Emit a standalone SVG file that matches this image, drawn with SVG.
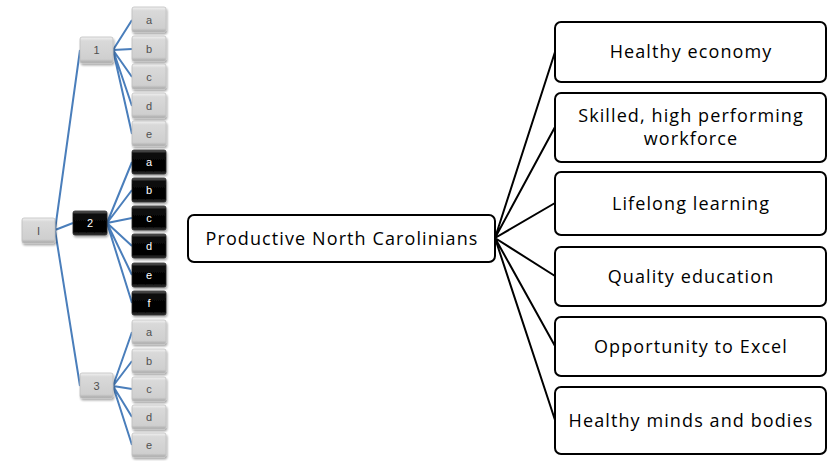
<svg xmlns="http://www.w3.org/2000/svg" width="827" height="461" viewBox="0 0 827 461">
<defs>
<linearGradient id="gGray" x1="0" y1="0" x2="0" y2="1">
<stop offset="0" stop-color="#f2f2f2"/>
<stop offset="0.15" stop-color="#d9d9d9"/>
<stop offset="0.85" stop-color="#cfcfcf"/>
<stop offset="1" stop-color="#a6a6a6"/>
</linearGradient>
<linearGradient id="gBlack" x1="0" y1="0" x2="0" y2="1">
<stop offset="0" stop-color="#6a6a6a"/>
<stop offset="0.15" stop-color="#0a0a0a"/>
<stop offset="0.85" stop-color="#000"/>
<stop offset="1" stop-color="#3a3a3a"/>
</linearGradient>
<filter id="sh" x="-20%" y="-20%" width="150%" height="160%">
<feGaussianBlur in="SourceAlpha" stdDeviation="1"/>
<feOffset dx="1" dy="1.5" result="o"/>
<feComponentTransfer><feFuncA type="linear" slope="0.35"/></feComponentTransfer>
<feMerge><feMergeNode/><feMergeNode in="SourceGraphic"/></feMerge>
</filter>
</defs>
<style>
.g{fill:url(#gGray);stroke:#bfbfbf;stroke-width:0.8;filter:url(#sh)}
.k{fill:url(#gBlack);stroke:#222;stroke-width:0.8;filter:url(#sh)}
.tg{font-family:"Liberation Sans Narrow","Liberation Sans",sans-serif;font-size:11px;fill:#505050;text-anchor:middle}
.tk{font-family:"Liberation Sans Narrow","Liberation Sans",sans-serif;font-size:11px;fill:#fff;text-anchor:middle}
.bl{stroke:#4a7ebb;stroke-width:2;fill:none}
.bx{fill:#fff;stroke:#000;stroke-width:2}
.t{font-family:"Open Sans","Noto Sans",sans-serif;font-size:18px;letter-spacing:1.1px;fill:#000;text-anchor:middle}
.ln{stroke:#000;stroke-width:2;fill:none}
</style>
<g id="connectors">
<path class="bl" d="M55 230 L80 50 M55 230 L73 223 M55 230 L80 386"/>
<path class="bl" d="M113 50 L132 20 M113 50 L132 49 M113 50 L132 77 M113 50 L132 106 M113 50 L132 134"/>
<path class="bl" d="M107 223 L132 162 M107 223 L132 190 M107 223 L132 218 M107 223 L132 246 M107 223 L132 275 M107 223 L132 303"/>
<path class="bl" d="M113 386 L132 332 M113 386 L132 361 M113 386 L132 389 M113 386 L132 417 M113 386 L132 445"/>
<path class="ln" d="M495 238 L555 52 M495 238 L555 127 M495 238 L555 203 M495 238 L555 276 M495 238 L555 346 M495 238 L555 420"/>
</g>
<g id="root"><rect class="g" x="22" y="218" width="33" height="25" rx="2"/><text class="tg" x="38.5" y="234.5">I</text></g>
<g id="n1"><rect class="g" x="80" y="37" width="33" height="26" rx="2"/><text class="tg" x="96.5" y="54">1</text></g>
<g id="n2"><rect class="k" x="73" y="211" width="34" height="24" rx="2"/><text class="tk" x="90" y="227">2</text></g>
<g id="n3"><rect class="g" x="80" y="373" width="33" height="25" rx="2"/><text class="tg" x="96.5" y="389.5">3</text></g>
<g id="n1a"><rect class="g" x="132" y="7" width="34" height="25" rx="2"/><text class="tg" x="149" y="23.5">a</text></g>
<g id="n1b"><rect class="g" x="132" y="36" width="34" height="25" rx="2"/><text class="tg" x="149" y="52.5">b</text></g>
<g id="n1c"><rect class="g" x="132" y="64" width="34" height="25" rx="2"/><text class="tg" x="149" y="80.5">c</text></g>
<g id="n1d"><rect class="g" x="132" y="93" width="34" height="25" rx="2"/><text class="tg" x="149" y="109.5">d</text></g>
<g id="n1e"><rect class="g" x="132" y="121" width="34" height="25" rx="2"/><text class="tg" x="149" y="137.5">e</text></g>
<g id="n2a"><rect class="k" x="132" y="150" width="34" height="24" rx="2"/><text class="tk" x="149" y="166">a</text></g>
<g id="n2b"><rect class="k" x="132" y="178" width="34" height="24" rx="2"/><text class="tk" x="149" y="194">b</text></g>
<g id="n2c"><rect class="k" x="132" y="206" width="34" height="24" rx="2"/><text class="tk" x="149" y="222">c</text></g>
<g id="n2d"><rect class="k" x="132" y="234" width="34" height="24" rx="2"/><text class="tk" x="149" y="250">d</text></g>
<g id="n2e"><rect class="k" x="132" y="263" width="34" height="24" rx="2"/><text class="tk" x="149" y="279">e</text></g>
<g id="n2f"><rect class="k" x="132" y="291" width="34" height="24" rx="2"/><text class="tk" x="149" y="307">f</text></g>
<g id="n3a"><rect class="g" x="132" y="320" width="34" height="24" rx="2"/><text class="tg" x="149" y="336">a</text></g>
<g id="n3b"><rect class="g" x="132" y="349" width="34" height="24" rx="2"/><text class="tg" x="149" y="365">b</text></g>
<g id="n3c"><rect class="g" x="132" y="377" width="34" height="24" rx="2"/><text class="tg" x="149" y="393">c</text></g>
<g id="n3d"><rect class="g" x="132" y="405" width="34" height="24" rx="2"/><text class="tg" x="149" y="421">d</text></g>
<g id="n3e"><rect class="g" x="132" y="433" width="34" height="24" rx="2"/><text class="tg" x="149" y="449">e</text></g>
<g id="center"><rect class="bx" x="188" y="215" width="307" height="47" rx="6"/><text class="t" x="342" y="245">Productive North Carolinians</text></g>
<g id="r1"><rect class="bx" x="555" y="22" width="271" height="60" rx="6"/><text class="t" x="691" y="58">Healthy economy</text></g>
<g id="r2"><rect class="bx" x="555" y="93" width="271" height="69" rx="6"/><text class="t" x="691" y="122">Skilled, high performing</text><text class="t" x="691" y="145">workforce</text></g>
<g id="r3"><rect class="bx" x="555" y="172" width="271" height="63" rx="6"/><text class="t" x="691" y="210">Lifelong learning</text></g>
<g id="r4"><rect class="bx" x="555" y="247" width="271" height="59" rx="6"/><text class="t" x="691" y="283">Quality education</text></g>
<g id="r5"><rect class="bx" x="555" y="317" width="271" height="59" rx="6"/><text class="t" x="691" y="353">Opportunity to Excel</text></g>
<g id="r6"><rect class="bx" x="555" y="387" width="271" height="67" rx="6"/><text class="t" x="691" y="427">Healthy minds and bodies</text></g>
</svg>
